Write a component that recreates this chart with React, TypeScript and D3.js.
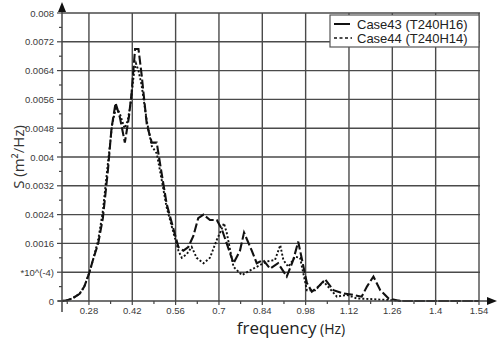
import React from "react";
import * as d3 from "d3";

// Case43 (T240H16) - dashed
const case43Freq = [0.193, 0.21, 0.228, 0.25, 0.265, 0.281, 0.295, 0.31, 0.325, 0.341, 0.353, 0.366, 0.38, 0.396, 0.409, 0.418, 0.429, 0.44, 0.45, 0.467, 0.483, 0.499, 0.51, 0.531, 0.553, 0.569, 0.585, 0.601, 0.617, 0.633, 0.65, 0.671, 0.693, 0.709, 0.725, 0.747, 0.768, 0.781, 0.806, 0.822, 0.843, 0.865, 0.891, 0.919, 0.94, 0.956, 0.967, 0.984, 1.0, 1.021, 1.043, 1.07, 1.102, 1.134, 1.161, 1.178, 1.199, 1.221, 1.248, 1.285, 1.4, 1.54];
const case43S = [0, 0.00002, 0.00008, 0.0002, 0.0004, 0.00078, 0.0012, 0.0016, 0.0023, 0.0036, 0.0048, 0.0055, 0.0051, 0.0044, 0.0051, 0.0058, 0.007, 0.007, 0.0063, 0.0049, 0.0044, 0.0044, 0.0038, 0.0027, 0.002, 0.0015, 0.0014, 0.0015, 0.0018, 0.0023, 0.0024, 0.00225, 0.00225, 0.002, 0.0016, 0.00105, 0.0014, 0.0019, 0.0014, 0.00105, 0.00114, 0.0009, 0.00105, 0.00068, 0.00114, 0.00165, 0.0012, 0.0005, 0.00026, 0.0004, 0.0006, 0.0003, 0.00021, 0.00017, 0.00012, 0.0004, 0.00068, 0.0003, 0.00007, 0, 0, 0];

// Case44 (T240H14) - dotted
const case44Freq = [0.193, 0.21, 0.228, 0.25, 0.265, 0.281, 0.295, 0.31, 0.325, 0.341, 0.355, 0.368, 0.38, 0.395, 0.405, 0.415, 0.425, 0.432, 0.44, 0.45, 0.467, 0.483, 0.499, 0.51, 0.531, 0.553, 0.569, 0.58, 0.596, 0.612, 0.628, 0.65, 0.671, 0.693, 0.709, 0.716, 0.725, 0.747, 0.774, 0.811, 0.855, 0.881, 0.898, 0.908, 0.924, 0.946, 0.962, 0.984, 1.011, 1.038, 1.081, 1.113, 1.145, 1.2, 1.3, 1.54];
const case44S = [0, 0.00002, 0.00008, 0.0002, 0.0004, 0.00078, 0.0012, 0.0017, 0.0025, 0.0038, 0.0049, 0.0054, 0.0052, 0.0048, 0.005, 0.0055, 0.0063, 0.0066, 0.0064, 0.006, 0.005, 0.0043, 0.0041, 0.0036, 0.0026, 0.0019, 0.0014, 0.0012, 0.0013, 0.0015, 0.0012, 0.00105, 0.0012, 0.0017, 0.002, 0.00216, 0.0019, 0.00095, 0.00072, 0.0009, 0.0011, 0.00114, 0.00155, 0.00114, 0.00095, 0.00123, 0.0012, 0.0003, 0.0003, 0.00054, 0.00012, 0.00017, 0.00007, 0.00005, 0, 0];

const xTicks = [0.28, 0.42, 0.56, 0.7, 0.84, 0.98, 1.12, 1.26, 1.4, 1.54];
const xTickLabels = ["0.28", "0.42", "0.56", "0.7", "0.84", "0.98", "1.12", "1.26", "1.4", "1.54"];
const yTicks = [0, 0.0008, 0.0016, 0.0024, 0.0032, 0.004, 0.0048, 0.0056, 0.0064, 0.0072, 0.008];
const yTickLabels = ["0", "*10^(-4)", "0.0016", "0.0024", "0.0032", "0.004", "0.0048", "0.0056", "0.0064", "0.0072", "0.008"];
const seriesNames = ["Case43 (T240H16)", "Case44 (T240H14)"];

const W = 500;
const H = 343;

export default function App() {
  const x = d3.scaleLinear().domain([0.193, 1.54]).range([62, 479]);
  const y = d3.scaleLinear().domain([0, 0.008]).range([301, 13]);

  const line = d3
    .line<[number, number]>()
    .x((d) => x(d[0]))
    .y((d) => y(d[1]));

  const s43 = case43Freq.map((f, i) => [f, case43S[i]] as [number, number]);
  const s44 = case44Freq.map((f, i) => [f, case44S[i]] as [number, number]);

  // minor ticks half way between the labelled ones
  const xMinor = xTicks.map((t) => t - 0.07);
  const yMinor = yTicks.slice(1).map((t) => t - 0.0004);

  const grid = "#4a4a4a";
  const axisCol = "#444";
  const tickFont = "'Liberation Sans', Arial, sans-serif";

  const x0 = x.range()[0];
  const y0 = y.range()[0];

  return (
    <svg width={W} height={H} style={{ position: "absolute", left: 0, top: 0, background: "#fff" }}>
      {/* grid */}
      {xTicks.map((t) => (
        <line key={"gx" + t} x1={x(t)} x2={x(t)} y1={y(0.008)} y2={y0} stroke={grid} strokeWidth={1.4} />
      ))}
      {yTicks.slice(1).map((t) => (
        <line key={"gy" + t} x1={x0} x2={480} y1={y(t)} y2={y(t)} stroke={grid} strokeWidth={1.4} />
      ))}

      {/* series */}
      <path d={line(s44) || ""} fill="none" stroke="#111" strokeWidth={1.9} strokeDasharray="2,2" />
      <path d={line(s43) || ""} fill="none" stroke="#111" strokeWidth={2.1} strokeDasharray="9,3" />

      {/* axes */}
      <line x1={58} x2={492} y1={y0} y2={y0} stroke={axisCol} strokeWidth={1.5} />
      <path d={`M497,${y0} L487,${y0 - 4} L487,${y0 + 4} Z`} fill="#111" />
      <line x1={x0} x2={x0} y1={312} y2={8} stroke={axisCol} strokeWidth={1.5} />
      <path d={`M${x0},2 L${x0 - 4},12 L${x0 + 4},12 Z`} fill="#111" />

      {/* x ticks */}
      {xTicks.map((t, i) => (
        <g key={"xt" + t}>
          <line x1={x(t)} x2={x(t)} y1={y0} y2={y0 + 4} stroke={axisCol} strokeWidth={1.2} />
          <text x={x(t)} y={y0 + 12.5} textAnchor="middle" fontSize={9.5} fill="#3a3a3a" fontFamily={tickFont}>
            {xTickLabels[i]}
          </text>
        </g>
      ))}
      {xMinor.map((t) => (
        <line key={"xm" + t} x1={x(t)} x2={x(t)} y1={y0} y2={y0 + 3} stroke={axisCol} strokeWidth={1.2} />
      ))}

      {/* y ticks */}
      {yTicks.map((t, i) => (
        <g key={"yt" + t}>
          <line x1={x0 - 5} x2={x0} y1={y(t)} y2={y(t)} stroke={axisCol} strokeWidth={1.2} />
          <text x={x0 - 8} y={y(t) + 3.5} textAnchor="end" fontSize={9.5} fill="#3a3a3a" fontFamily={tickFont}>
            {yTickLabels[i]}
          </text>
        </g>
      ))}
      {yMinor.map((t) => (
        <line key={"ym" + t} x1={x0 - 3} x2={x0} y1={y(t)} y2={y(t)} stroke={axisCol} strokeWidth={1.2} />
      ))}

      {/* axis titles */}
      <text
        transform={`translate(24,157) rotate(-90)`}
        textAnchor="middle"
        fontSize={15}
        fill="#333"
        fontFamily="'Open Sans', sans-serif"
      >
        S (m²/Hz)
      </text>
      <text x={291} y={334} textAnchor="middle" fill="#222" fontFamily="'Open Sans', sans-serif">
        <tspan fontSize={17}>frequency</tspan>
        <tspan fontSize={14}> (Hz)</tspan>
      </text>

      {/* legend */}
      <rect x={330} y={15} width={149} height={32} fill="#fff" stroke="#555" strokeWidth={1.2} />
      <line x1={334} x2={352} y1={24} y2={24} stroke="#111" strokeWidth={2} strokeDasharray="16,2" />
      <line x1={334} x2={352} y1={38} y2={38} stroke="#111" strokeWidth={1.6} strokeDasharray="3,2.5" />
      <text x={357} y={28.5} fontSize={13} fill="#222" fontFamily={tickFont}>
        {seriesNames[0]}
      </text>
      <text x={357} y={42.5} fontSize={13} fill="#222" fontFamily={tickFont}>
        {seriesNames[1]}
      </text>
    </svg>
  );
}
